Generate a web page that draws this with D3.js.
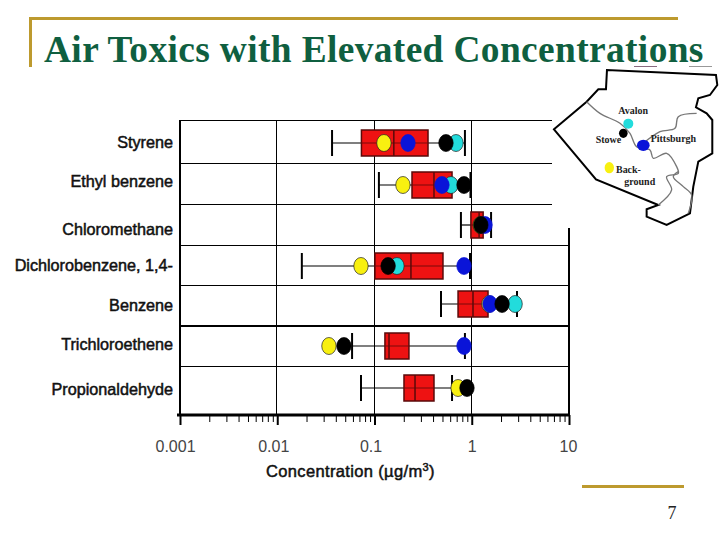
<!DOCTYPE html>
<html>
<head>
<meta charset="utf-8">
<script src="https://cdn.jsdelivr.net/npm/d3@7"></script>
<style>
  html, body { margin: 0; padding: 0; background: #fff; }
  svg { display: block; }
</style>
</head>
<body>
<script>
// chart values (ug/m3). null = hidden behind another dot
var compounds = ["Styrene", "Ethyl benzene", "Chloromethane", "Dichlorobenzene, 1,4-", "Benzene", "Trichloroethene", "Propionaldehyde"];
var whiskerLow  = [0.0366, 0.111, 0.774, 0.0179, 0.483, 0.0588, 0.0726];
var boxLow      = [0.0734, 0.243, 0.98, 0.101, 0.723, 0.128, 0.201];
var median      = [0.158, 0.409, 1.19, 0.237, 1.03, 0.141, 0.261];
var boxHigh     = [0.355, 0.627, 1.31, 0.506, 1.47, 0.226, 0.409];
var whiskerHigh = [0.851, 0.97, 1.58, 0.96, 2.92, 0.851, 0.627];

var background = [0.125, 0.196, 1.22, 0.0726, 1.50, 0.034, 0.723];
var avalon     = [0.689, 0.612, null, 0.170, 2.79, null, null];
var pittsburgh = [0.221, 0.494, 1.37, 0.832, 1.54, 0.832, null];
var stowe      = [0.543, 0.832, 1.24, 0.138, 2.05, 0.0485, 0.893];

var majorTicks = [0.001, 0.01, 0.1, 1, 10];
var majorLabels = ["0.001", "0.01", "0.1", "1", "10"];
var minorTicks = [];
[0.001, 0.01, 0.1, 1].forEach(function(d) {
  [2, 3, 4, 5, 6, 7, 8, 9].forEach(function(m) { minorTicks.push(d * m); });
});

var gold = "#bd9a2e";
var svg = d3.select("body").append("svg").attr("width", 720).attr("height", 540);

// slide frame
svg.append("path").attr("d", "M30.5,67V18.5H678").attr("fill", "none").attr("stroke", gold).attr("stroke-width", 3);
svg.append("line").attr("x1", 582).attr("x2", 684).attr("y1", 486.5).attr("y2", 486.5).attr("stroke", gold).attr("stroke-width", 3);

svg.append("text")
  .attr("x", 44).attr("y", 62)
  .attr("font-family", "Liberation Serif")
  .attr("font-weight", "bold")
  .attr("font-size", 37.4)
  .attr("letter-spacing", 0.37)
  .attr("fill", "#0f5f40")
  .text("Air Toxics with Elevated Concentrations");

svg.append("text")
  .attr("x", 672).attr("y", 519)
  .attr("text-anchor", "middle")
  .attr("font-family", "Liberation Serif")
  .attr("font-size", 18)
  .attr("fill", "#222")
  .text("7");

// scales
var x = d3.scaleLog().domain([0.001, 10]).range([180, 569]);
var y = d3.scaleOrdinal().domain(compounds).range([143, 185, 225, 266, 304, 346, 388]);
var labelY = d3.scaleOrdinal().domain(compounds).range([142, 181, 229, 265, 305, 344, 389]);
var gridY = [120.5, 163.5, 204.5, 245.5, 285.5, 326.5, 366.5];
var gridEnd = [552, 552, 552, 569, 569, 569, 569];

// grid
var grid = svg.append("g").attr("stroke", "#000");
gridY.forEach(function(gy, i) {
  grid.append("line").attr("x1", 180).attr("x2", gridEnd[i]).attr("y1", gy).attr("y2", gy);
});
grid.selectAll(".vgrid").data([0.01, 0.1, 1]).enter().append("line")
  .attr("class", "vgrid")
  .attr("x1", function(d) { return Math.round(x(d)) - 0.5; })
  .attr("x2", function(d) { return Math.round(x(d)) - 0.5; })
  .attr("y1", 120).attr("y2", 415);
grid.append("line").attr("x1", 180).attr("x2", 180).attr("y1", 120).attr("y2", 415).attr("stroke-width", 2);
grid.append("line").attr("x1", 569).attr("x2", 569).attr("y1", 228).attr("y2", 415).attr("stroke-width", 2);
grid.append("line").attr("x1", 180).attr("x2", 569).attr("y1", 326).attr("y2", 326).attr("stroke-width", 2);

// axis: minor ticks, then major ticks with the labels
var axisMinor = svg.append("g").attr("transform", "translate(0,415)")
  .call(d3.axisBottom(x).tickValues(minorTicks).tickSize(7).tickFormat(""));
axisMinor.select(".domain").remove();

var axisMajor = svg.append("g").attr("transform", "translate(0,415)")
  .call(d3.axisBottom(x).tickValues(majorTicks).tickSize(10).tickSizeOuter(0)
    .tickFormat(function(d, i) { return majorLabels[i]; }));
axisMajor.select(".domain").attr("stroke-width", 3).attr("d", "M177,0H570");
axisMajor.selectAll(".tick line").attr("stroke-width", 2);
axisMajor.selectAll(".tick text")
  .attr("y", 37).attr("dy", 0)
  .attr("dx", function(d, i) { return [-5, -4, -4, 0, -1][i]; })
  .attr("font-family", "Liberation Sans")
  .attr("font-size", 16)
  .attr("fill", "#444");

// row labels
svg.append("g").selectAll("text").data(compounds).enter().append("text")
  .attr("x", 173)
  .attr("y", function(d) { return labelY(d); })
  .attr("dy", "0.35em")
  .attr("text-anchor", "end")
  .attr("font-family", "Liberation Sans")
  .attr("font-size", 16.2)
  .attr("fill", "#111")
  .attr("stroke", "#111")
  .attr("stroke-width", 0.5)
  .text(function(d) { return d; });

var title = svg.append("text")
  .attr("x", 266).attr("y", 477)
  .attr("font-family", "Liberation Sans")
  .attr("font-size", 16.5)
  .attr("letter-spacing", 0.35)
  .attr("fill", "#111")
  .attr("stroke", "#111")
  .attr("stroke-width", 0.5)
  .text("Concentration (\u00b5g/m");
title.append("tspan").attr("font-size", 11).attr("dy", -6).text("3");
title.append("tspan").attr("dy", 6).text(")");

// boxes
var rows = svg.append("g").selectAll("g").data(compounds).enter().append("g")
  .attr("transform", function(d) { return "translate(0," + y(d) + ")"; });

rows.append("line")
  .attr("x1", function(d, i) { return x(whiskerLow[i]); })
  .attr("x2", function(d, i) { return x(whiskerHigh[i]); })
  .attr("stroke", "#000").attr("stroke-width", 1.2);

[whiskerLow, whiskerHigh].forEach(function(vals) {
  rows.append("line")
    .attr("x1", function(d, i) { return x(vals[i]); })
    .attr("x2", function(d, i) { return x(vals[i]); })
    .attr("y1", -13).attr("y2", 13)
    .attr("stroke", "#000").attr("stroke-width", 2);
});

rows.append("rect")
  .attr("x", function(d, i) { return x(boxLow[i]); })
  .attr("width", function(d, i) { return x(boxHigh[i]) - x(boxLow[i]); })
  .attr("y", -13).attr("height", 26)
  .attr("fill", "#ee1212")
  .attr("stroke", "#5a0a0a").attr("stroke-width", 1.5);

// whisker shows through the box in the reference
rows.append("line")
  .attr("x1", function(d, i) { return x(boxLow[i]); })
  .attr("x2", function(d, i) { return x(boxHigh[i]); })
  .attr("stroke", "#7a0808").attr("stroke-width", 1);

rows.append("line")
  .attr("x1", function(d, i) { return x(median[i]); })
  .attr("x2", function(d, i) { return x(median[i]); })
  .attr("y1", -13).attr("y2", 13)
  .attr("stroke", "#5a0a0a").attr("stroke-width", 1.5);

// site dots, same drawing order as the reference
var sites = [
  {vals: background, color: "#f8f010", edge: "#222"},
  {vals: avalon, color: "#22dcdc", edge: "#222"},
  {vals: pittsburgh, color: "#0a14d8", edge: "#0a14d8"},
  {vals: stowe, color: "#000", edge: "#000"}
];
sites.forEach(function(s) {
  rows.filter(function(d, i) { return s.vals[i] != null; })
    .append("ellipse")
    .attr("cx", function(d) { return x(s.vals[compounds.indexOf(d)]); })
    .attr("rx", 7.2).attr("ry", 8.5)
    .attr("fill", s.color)
    .attr("stroke", s.edge).attr("stroke-width", 0.7);
});

// locator map, drawn in zoomed-up units
var outline = [[582,388],[680,305],[715,268],[738,268],[741,210],[1068,225],[1072,255],[1050,285],[1015,295],[1008,322],[1040,340],[1057,360],[1057,460],[1015,485],[1000,560],[990,640],[920,675],[860,650],[860,628],[895,615],[708,538]];
var river1 = [[680,305],[720,340],[780,370],[810,400],[830,440],[870,450],[880,475],[920,460],[950,500],[955,520],[920,530],[935,570],[895,615]];
var river2 = [[850,430],[900,395],[945,385],[955,350],[1010,340]];
var river3 = [[955,515],[940,530],[970,560],[995,585],[985,640]];

var map = svg.append("g").attr("transform", "translate(360,0) scale(0.3333)");
var line = d3.line().curve(d3.curveLinear);
map.append("path").attr("d", line(outline) + "Z").attr("fill", "#fff").attr("stroke", "#000").attr("stroke-width", 6);
[river1, river2, river3].forEach(function(r) {
  map.append("path").attr("d", d3.line().curve(d3.curveCatmullRom)(r))
    .attr("fill", "none").attr("stroke", "#777").attr("stroke-width", 4);
});

var mapDots = [
  {x: 805, y: 371, rx: 15, ry: 15, color: "#22dcdc"},
  {x: 790, y: 400, rx: 13, ry: 14, color: "#000"},
  {x: 850, y: 436, rx: 19, ry: 17, color: "#0a14d8"},
  {x: 748, y: 503, rx: 14, ry: 17, color: "#f8f010"}
];
map.selectAll("ellipse").data(mapDots).enter().append("ellipse")
  .attr("cx", function(d) { return d.x; }).attr("cy", function(d) { return d.y; })
  .attr("rx", function(d) { return d.rx; }).attr("ry", function(d) { return d.ry; })
  .attr("fill", function(d) { return d.color; });

var mapLabels = [
  {t: "Avalon", x: 775, y: 343},
  {t: "Stowe", x: 707, y: 430},
  {t: "Pittsburgh", x: 872, y: 427},
  {t: "Back-", x: 768, y: 519},
  {t: "ground", x: 793, y: 556}
];
map.selectAll("text").data(mapLabels).enter().append("text")
  .attr("x", function(d) { return d.x; }).attr("y", function(d) { return d.y; })
  .attr("font-family", "Liberation Serif")
  .attr("font-weight", "bold")
  .attr("font-size", 30)
  .attr("fill", "#222")
  .text(function(d) { return d.t; });

// little scan marks under the title
svg.append("line").attr("x1", 634).attr("x2", 657).attr("y1", 66.5).attr("y2", 66.5).attr("stroke", "#8a6a80");
svg.append("line").attr("x1", 689).attr("x2", 712).attr("y1", 66.5).attr("y2", 66.5).attr("stroke", "#999");
</script>
</body>
</html>
